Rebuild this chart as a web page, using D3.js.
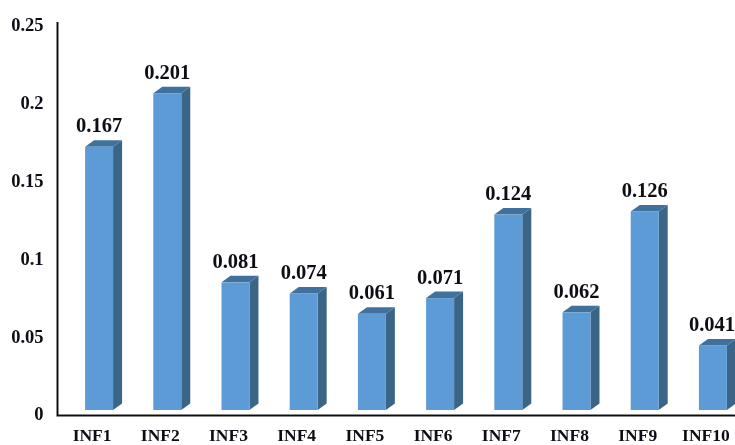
<!DOCTYPE html>
<html><head><meta charset="utf-8">
<script src="https://cdn.jsdelivr.net/npm/d3@7"></script>
<style>
html,body{margin:0;padding:0;background:#fff}
svg{display:block}
text{font-family:"Liberation Serif",serif;font-weight:bold;fill:#0c0c14}
</style></head><body>
<svg id="c" width="735" height="445"></svg>
<script>
const categories=["INF1","INF2","INF3","INF4","INF5","INF6","INF7","INF8","INF9","INF10"];
const values=[0.167,0.201,0.081,0.074,0.061,0.071,0.124,0.062,0.126,0.041];
const valueLabels=["0.167","0.201","0.081","0.074","0.061","0.071","0.124","0.062","0.126","0.041"];
const tickValues=[0,0.05,0.1,0.15,0.2,0.25];
const tickLabels=["0","0.05","0.1","0.15","0.2","0.25"];

const svg=d3.select("#c");
const defs=svg.append("defs");
defs.append("filter").attr("id","soft").append("feGaussianBlur").attr("stdDeviation",0.55);
const plot=svg.append("g").attr("filter","url(#soft)");

const x=d3.scaleBand().domain(categories).range([51,761]).paddingInner(0.59).paddingOuter(0.5);
const y=d3.scaleLinear().domain([0,0.25]).range([410,16]);
const yLab=d3.scaleLinear().domain([0,0.25]).range([414,25]);
const dx=9,dy=6.5;

const bars=plot.selectAll("g.bar").data(categories).join("g").attr("class","bar");
bars.append("path").attr("fill","#3a6587").attr("d",(c,i)=>{
  const r=x(c)+x.bandwidth(),t=y(values[i]),b=y(0);
  return `M${r},${t}L${r+dx},${t-dy}L${r+dx},${b-dy}L${r},${b}Z`;});
bars.append("path").attr("fill","#41719c").attr("d",(c,i)=>{
  const l=x(c),r=l+x.bandwidth(),t=y(values[i]);
  return `M${l},${t}L${l+dx},${t-dy}L${r+dx},${t-dy}L${r},${t}Z`;});
bars.append("rect").attr("fill","#5b9bd5")
  .attr("x",c=>x(c)).attr("width",x.bandwidth())
  .attr("y",(c,i)=>y(values[i])).attr("height",(c,i)=>y(0)-y(values[i]));

plot.append("path").attr("fill","none").attr("stroke","#111").attr("stroke-width",2)
  .attr("d","M57.5,22V415.5H735");

plot.selectAll("text.tick").data(tickValues).join("text").attr("class","tick")
  .attr("x",43.5).attr("y",d=>yLab(d)).attr("dy","0.35em").attr("text-anchor","end")
  .attr("font-size",18.5).text((d,i)=>tickLabels[i]);

plot.selectAll("text.cat").data(categories).join("text").attr("class","cat")
  .attr("x",c=>x(c)+x.bandwidth()/2-7).attr("y",441).attr("text-anchor","middle")
  .attr("font-size",17.5).text(c=>c);

plot.selectAll("text.val").data(values).join("text").attr("class","val")
  .attr("x",(d,i)=>Math.min(x(categories[i])+x.bandwidth()/2,712)).attr("y",d=>y(d)-14.5)
  .attr("text-anchor","middle").attr("font-size",20.5).text((d,i)=>valueLabels[i]);
</script>
</body></html>
